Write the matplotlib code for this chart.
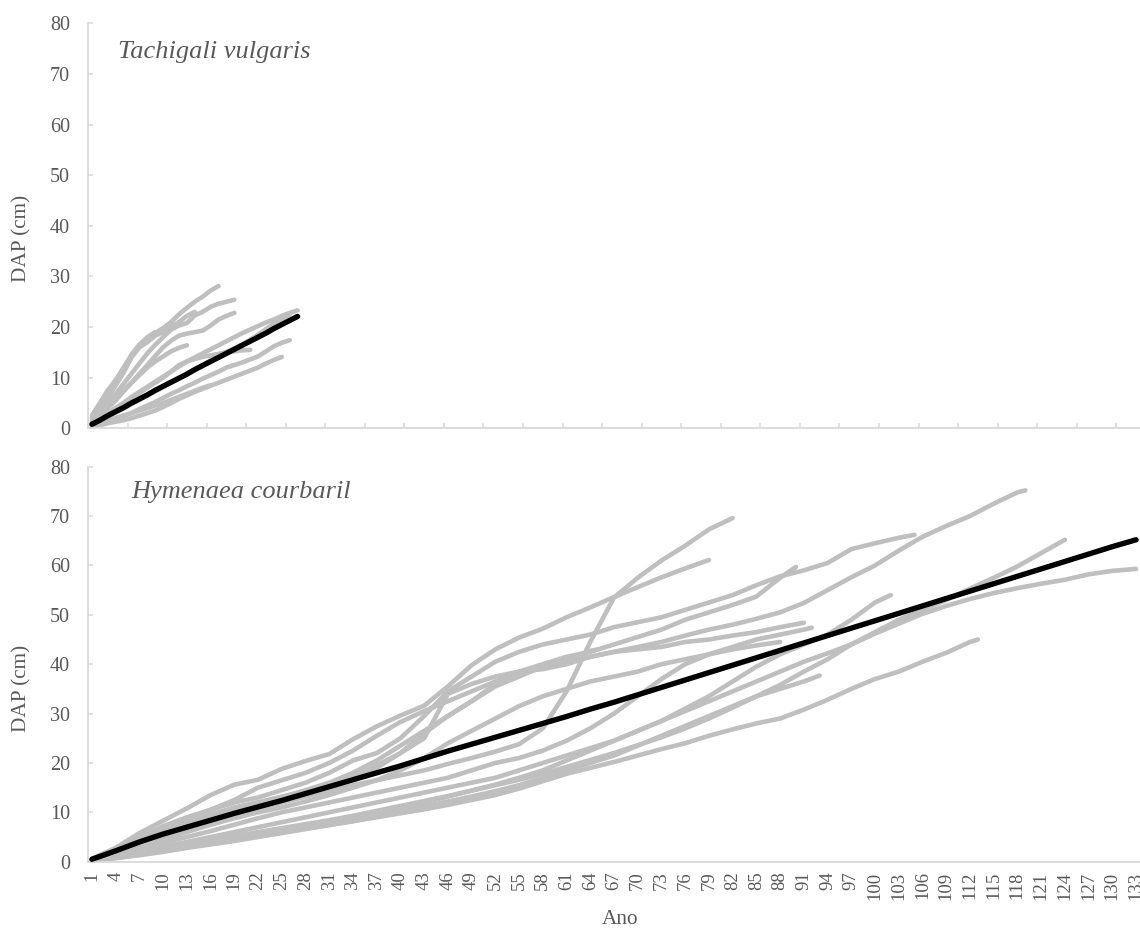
import matplotlib
matplotlib.use("Agg")
import matplotlib.pyplot as plt
import numpy as np

plt.rcParams['font.family'] = ['Liberation Serif', 'DejaVu Serif']

GRAY = '#BFBFBF'
TEXT = '#595959'
AXIS = '#D9D9D9'

# ---------------- Tachigali vulgaris: DAP (cm) per tree, one value per year from age 1
tv01 = [2.5, 5.0, 7.5, 9.5, 11.5, 14.5, 16.5, 17.5, 18.8, 19.8, 21.0, 22.5, 23.8, 25.0, 26.0, 27.2, 28.1]
tv02 = [1.5, 3.0, 4.8, 6.8, 8.8, 10.8, 12.8, 14.8, 16.5, 18.0, 19.5, 20.3, 20.8, 22.3, 23.0, 24.0, 24.6, 25.0, 25.4]
tv03 = [1.0, 2.5, 4.0, 5.5, 7.3, 9.0, 10.8, 12.5, 14.3, 16.0, 17.3, 18.3, 18.7, 19.0, 19.3, 20.3, 21.5, 22.2, 22.8]
tv04 = [2.0, 4.0, 6.0, 8.5, 11.0, 14.0, 16.0, 17.0, 18.3, 19.0, 20.0, 21.0, 22.2, 23.0]
tv05 = [1.0, 2.0, 3.0, 4.0, 5.0, 6.2, 7.2, 8.2, 9.2, 10.2, 11.2, 12.2, 13.2, 14.0, 14.8, 15.6, 16.4, 17.2,
        18.0, 18.8, 19.5, 20.2, 20.9, 21.5, 22.2, 22.8, 23.3]
tv06 = [0.5, 1.0, 1.5, 2.0, 2.5, 3.0, 3.8, 4.5, 5.2, 6.0, 6.8, 7.5, 8.3, 9.0, 9.8, 10.5, 11.2, 12.0, 12.5,
        13.0, 13.6, 14.2, 15.2, 16.2, 16.9, 17.4]
tv07 = [0.3, 0.6, 1.0, 1.3, 1.6, 2.0, 2.5, 3.0, 3.5, 4.2, 5.0, 5.8, 6.5, 7.2, 7.8, 8.4, 9.0, 9.6, 10.2, 10.8,
        11.4, 12.0, 12.8, 13.5, 14.1]
tv08 = [1.0, 2.0, 3.0, 4.0, 5.0, 6.0, 7.0, 8.0, 9.0, 10.0, 11.2, 12.5, 13.2, 13.7, 14.1, 14.4, 14.7, 15.0, 15.2,
        15.4, 15.5]
tv09 = [1.5, 3.0, 4.5, 6.0, 7.5, 9.0, 10.5, 12.0, 13.2, 14.2, 15.2, 15.9, 16.4]
tv10 = [2.0, 4.5, 7.0, 9.5, 12.0, 14.5, 16.5, 18.0, 19.0]
tv11 = [0.8, 1.5, 2.3, 3.1, 3.9, 4.8, 5.6, 6.5, 7.3, 8.2, 9.0, 9.8, 10.6, 11.5, 12.5, 13.4, 14.3, 15.1, 15.8,
        16.6, 17.5, 18.5, 19.6, 20.7, 21.6, 22.5]
tv12 = [0.5, 1.0, 1.5, 2.0, 2.5, 3.0, 3.5, 4.0, 4.5, 5.0, 5.6, 6.2, 6.8, 7.4, 8.0, 8.5]
tv_mean = [0.8, 1.6, 2.5, 3.3, 4.1, 5.0, 5.8, 6.6, 7.5, 8.3, 9.1, 9.9, 10.7, 11.6, 12.4, 13.2, 14.0, 14.8,
           15.6, 16.4, 17.2, 18.0, 18.8, 19.7, 20.5, 21.3, 22.1]

# ---------------- Hymenaea courbaril: DAP (cm) per tree at ages 1, 4, 7, ... plus the last measured year
hc_a = [0.4, 1.8, 3.5, 5.0, 6.5, 8.0, 9.5, 10.8, 12.0, 13.2, 14.3, 15.5, 16.5, 17.5, 18.5, 19.8, 21.0, 22.3,
        23.8, 27.0, 34.5, 44.5, 53.5, 57.5, 61.0, 64.0, 67.3]
hc_a_last = (82, 69.6)
hc_b = [0.6, 2.8, 5.8, 8.3, 10.8, 13.5, 15.6, 16.6, 18.8, 20.4, 21.8, 24.8, 27.4, 29.6, 31.6, 35.5, 39.8, 43.0,
        45.4, 47.2, 49.5, 51.5, 53.6, 55.6, 57.6, 59.4]
hc_b_last = (79, 61.1)
hc_c = [0.5, 2.4, 5.0, 7.2, 9.0, 10.5, 12.5, 15.0, 16.5, 18.0, 20.0, 22.5, 25.5, 28.3, 30.5, 32.5, 34.5, 36.5,
        38.3, 39.5, 40.5, 41.5, 42.5, 43.5, 44.5, 45.8, 47.0, 48.0, 49.2, 50.5, 52.4, 55.0, 57.6, 60.0, 63.0,
        65.8, 68.0, 70.0, 72.5, 74.8]
hc_c_last = (119, 75.2)
hc_d = [0.5, 2.0, 4.5, 6.8, 8.8, 10.5, 12.0, 13.0, 14.5, 16.0, 18.0, 20.5, 22.0, 25.0, 29.5, 34.5, 37.5, 40.5,
        42.5, 44.0, 45.0, 46.0, 47.5, 48.5, 49.5, 51.0, 52.5, 54.0, 56.0, 57.8, 59.0, 60.5, 63.3, 64.5, 65.6]
hc_d_last = (105, 66.2)
hc_e = [0.4, 1.8, 4.0, 6.0, 7.8, 9.5, 10.8, 12.0, 13.2, 14.3, 15.5, 17.0, 19.0, 22.0, 26.0, 29.5, 32.5, 36.0,
        38.5, 40.0, 41.5, 42.5, 44.0, 45.5, 47.0, 49.0, 50.5, 52.0, 53.7, 57.5]
hc_e_last = (90, 59.7)
hc_f = [0.4, 1.5, 3.0, 4.5, 6.0, 7.5, 9.0, 10.5, 12.0, 13.5, 15.0, 17.0, 19.5, 22.0, 25.0, 34.0, 36.0, 37.5,
        38.5, 39.0, 40.0, 41.5, 42.5, 43.0, 43.5, 44.5, 45.0, 45.8, 46.5, 47.5]
hc_f_last = (91, 48.4)
hc_g = [0.3, 1.2, 2.5, 3.8, 5.0, 6.2, 7.5, 8.8, 10.0, 11.0, 12.0, 13.0, 14.0, 15.0, 16.0, 17.0, 18.5, 20.0,
        21.0, 22.5, 24.5, 27.0, 30.0, 33.5, 37.0, 40.0, 42.0, 43.5, 45.0, 46.0, 47.0]
hc_g_last = (92, 47.4)
hc_h = [0.3, 1.0, 2.0, 3.0, 4.0, 5.0, 6.0, 7.0, 8.0, 9.0, 10.0, 11.0, 12.0, 13.0, 14.0, 15.0, 16.0, 17.0,
        18.5, 20.0, 21.5, 23.0, 24.5, 26.5, 28.5, 31.0, 33.5, 36.5, 39.5, 42.0, 44.0, 46.0, 49.0, 52.5]
hc_h_last = (102, 54.0)
hc_i = [0.3, 0.9, 1.8, 2.6, 3.4, 4.2, 5.0, 5.8, 6.6, 7.4, 8.2, 9.0, 10.0, 11.0, 12.0, 13.2, 14.4, 15.6, 17.0,
        18.5, 20.5, 22.5, 24.5, 26.5, 28.5, 30.5, 32.5, 34.5, 36.5, 38.5, 40.5, 42.2, 44.0, 46.5, 49.0, 51.0,
        53.0, 55.3, 57.5, 59.8, 62.5]
hc_i_last = (124, 65.2)
hc_j = [0.3, 1.0, 1.9, 2.8, 3.6, 4.4, 5.2, 6.0, 6.8, 7.6, 8.4, 9.3, 10.3, 11.3, 12.3, 13.3, 14.4, 15.5, 16.6,
        17.8, 19.2, 20.6, 22.0, 23.6, 25.2, 27.0, 29.0, 31.2, 33.5, 35.8, 38.5, 41.0, 44.0, 46.2, 48.2, 50.2,
        51.8, 53.2, 54.4, 55.4, 56.3, 57.1, 58.2, 58.9]
hc_j_last = (133, 59.3)
hc_k = [0.2, 0.8, 1.5, 2.2, 3.0, 3.8, 4.5, 5.2, 6.0, 6.8, 7.5, 8.2, 9.0, 9.8, 10.6, 11.5, 12.5, 13.5, 14.8,
        16.3, 17.8, 19.0, 20.2, 21.5, 22.8, 24.0, 25.5, 26.8, 28.0, 29.0, 30.8, 32.8, 35.0, 37.0, 38.5, 40.5,
        42.3, 44.5]
hc_k_last = (113, 45.0)
hc_l = [0.2, 0.7, 1.3, 2.0, 2.8, 3.5, 4.2, 5.0, 5.8, 6.6, 7.4, 8.2, 9.2, 10.2, 11.2, 12.2, 13.2, 14.3, 15.5,
        17.0, 18.5, 20.0, 21.5, 23.5, 25.5, 27.5, 29.5, 31.5, 33.5, 35.0, 36.5]
hc_l_last = (93, 37.7)
hc_m = [0.5, 2.2, 4.5, 6.5, 8.0, 9.5, 11.0, 12.0, 13.0, 14.5, 16.0, 18.0, 20.5, 23.5, 26.5, 29.5, 32.5, 35.5,
        37.5, 39.5, 41.0, 42.7]
hc_m_last = (65, 43.0)
hc_o = [0.4, 1.6, 3.2, 4.8, 6.2, 7.5, 8.8, 10.0, 11.0, 12.2, 13.5, 15.0, 16.5, 18.5, 21.0, 24.0, 26.5, 29.0,
        31.5, 33.5, 35.0, 36.5, 37.5, 38.5, 40.0, 41.0, 42.0, 43.0, 43.8]
hc_o_last = (88, 44.5)
hc_mean = [0.5, 2.2, 4.0, 5.6, 7.0, 8.4, 9.8, 11.1, 12.4, 13.8, 15.2, 16.6, 18.0, 19.4, 20.9, 22.4, 23.8, 25.2,
           26.6, 28.0, 29.4, 30.9, 32.3, 33.8, 35.3, 36.8, 38.3, 39.8, 41.3, 42.8, 44.3, 45.8, 47.3, 48.8, 50.3,
           51.8, 53.3, 54.8, 56.3, 57.8, 59.3, 60.8, 62.3, 63.8, 65.2]

years = list(range(1, 134))
year_labels = [str(y) for y in years[::3]]

tv_trees = [tv01, tv02, tv03, tv04, tv05, tv06, tv07, tv08, tv09, tv10, tv11, tv12]
hc_trees = [(hc_a, hc_a_last), (hc_b, hc_b_last), (hc_c, hc_c_last), (hc_d, hc_d_last), (hc_e, hc_e_last),
            (hc_f, hc_f_last), (hc_g, hc_g_last), (hc_h, hc_h_last), (hc_i, hc_i_last), (hc_j, hc_j_last),
            (hc_k, hc_k_last), (hc_l, hc_l_last), (hc_m, hc_m_last), (hc_o, hc_o_last)]

W, H = 1140, 933
fig = plt.figure(figsize=(W / 100, H / 100), dpi=100)
ax_top = fig.add_axes([88 / W, 1 - 428.3 / H, 1052 / W, 405 / H])
ax_bot = fig.add_axes([88 / W, 1 - 861.7 / H, 1052 / W, 395 / H])

line_kw = dict(solid_capstyle='round', solid_joinstyle='round')
GRAY_LW, MEAN_LW = 3.3, 3.9

for vals in tv_trees:
    ax_top.plot(years[:len(vals)], vals, color=GRAY, lw=GRAY_LW, **line_kw)
ax_top.plot(years[:len(tv_mean)], tv_mean, color='black', lw=MEAN_LW, zorder=5, **line_kw)

for vals, (last_age, last_val) in hc_trees:
    ages = years[:3 * len(vals):3] + [last_age]
    ax_bot.plot(ages, vals + [last_val], color=GRAY, lw=GRAY_LW, **line_kw)
ax_bot.plot(years[::3], hc_mean, color='black', lw=MEAN_LW, zorder=5, **line_kw)

for ax in (ax_top, ax_bot):
    ax.set_xlim(0.5, 133.5)
    ax.set_ylim(0, 80)
    ax.set_yticks(range(0, 81, 10))
    for s in ('top', 'right'):
        ax.spines[s].set_visible(False)
    for s in ('left', 'bottom'):
        ax.spines[s].set_color(AXIS)
        ax.spines[s].set_linewidth(1.3)
    ax.tick_params(axis='y', direction='in', length=3.6, width=1.1, color=AXIS,
                   labelsize=14.5, labelcolor=TEXT, pad=13)
    ax.set_facecolor('none')

# top panel: category tick marks every five years, no labels
ax_top.set_xticks(np.arange(5.5, 131, 5))
ax_top.tick_params(axis='x', direction='in', length=3.6, width=1.1, color=AXIS, labelbottom=False)

# bottom panel: a label every third year
ax_bot.set_xticks(years[::3])
ax_bot.set_xticklabels(year_labels, rotation=90, ha='center', va='top')
ax_bot.tick_params(axis='x', length=0, labelsize=13.5, labelcolor=TEXT, pad=7)

fig.text(118 / W, 1 - 58 / H, 'Tachigali vulgaris', style='italic', fontsize=19, color=TEXT,
         ha='left', va='baseline')
fig.text(131 / W, 1 - 498 / H, 'Hymenaea courbaril', style='italic', fontsize=19, color=TEXT,
         ha='left', va='baseline')
fig.text(22 / W, 1 - 238 / H, 'DAP (cm)', rotation=90, fontsize=15.3, color=TEXT, ha='center', va='center')
fig.text(22 / W, 1 - 688 / H, 'DAP (cm)', rotation=90, fontsize=15.3, color=TEXT, ha='center', va='center')
fig.text(620 / W, 1 - 920 / H, 'Ano', fontsize=15.3, color=TEXT, ha='center', va='center')

fig.savefig('out.png', dpi=100, facecolor='white')
